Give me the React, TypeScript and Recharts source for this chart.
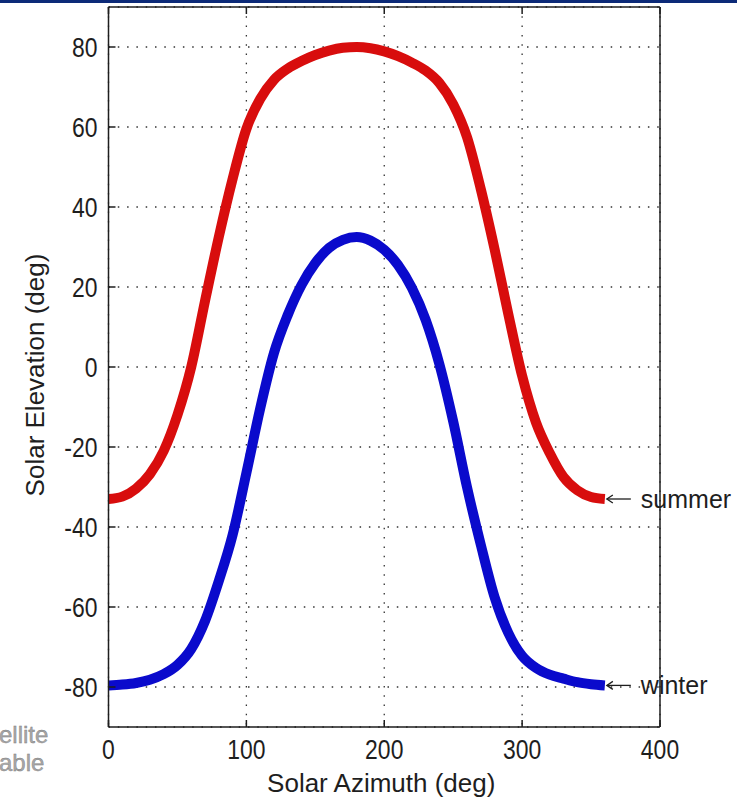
import { LineChart, Line, XAxis, YAxis, CartesianGrid } from 'recharts'

// solar azimuth (deg) sampled every 10 deg
const azimuth = [
  0, 10, 20, 30, 40, 50, 60, 70, 80, 90, 100, 110, 120, 130, 140, 150, 160, 170, 180,
  190, 200, 210, 220, 230, 240, 250, 260, 270, 280, 290, 300, 310, 320, 330, 340, 350, 360,
]

// elevation
const summer = [
  -33, -32.4, -30.4, -26.8, -21, -12, 0, 16.5, 32.5, 47, 59.5, 67, 71.8, 74.6, 76.5, 78, 79.1, 79.8, 80,
  79.7, 78.9, 77.7, 76.1, 74.1, 71, 65.7, 57.5, 44.5, 29.5, 13.2, -2.2, -13.8, -21.5, -27.5, -30.8, -32.5, -33,
]
const winter = [
  -79.6, -79.4, -79, -78.2, -76.8, -74.5, -70.5, -63.5, -53.5, -42, -26.5, -10.4, 3.5, 13, 20.5, 26, 29.8, 31.8, 32.5,
  31.6, 29.3, 25.5, 19.8, 11.8, 0.7, -13.6, -30, -44.4, -57.5, -66.5, -72.2, -75.2, -76.9, -77.9, -78.8, -79.3, -79.6,
]

const xTicks = [0, 100, 200, 300, 400]
const yTicks = [-80, -60, -40, -20, 0, 20, 40, 60, 80]
const slideText = ['ellite', 'able']

const data = azimuth.map((az, i) => ({ az, summer: summer[i], winter: winter[i] }))

const INK = '#1e1e1e'
const FONT = "'Liberation Sans', Arial, sans-serif"

// MATLAB-like condensed tick labels
const tickLabel = (axis: 'x' | 'y') => (p: any) => (
  <text transform={`translate(${p.x},${p.y}) scale(0.85,1)`} textAnchor={axis === 'x' ? 'middle' : 'end'}
    dy={axis === 'x' ? '0.71em' : '0.355em'} fontSize={27} fontFamily={FONT} fill={INK}>
    {p.payload.value}
  </text>
)

// arrow + text at the last point of a curve
const endLabel = (name: string) => (p: any) => {
  if (p.index !== azimuth.length - 1) return <g />
  const x = p.x, y = p.y
  return (
    <g>
      <line x1={x + 2} y1={y} x2={x + 26} y2={y} stroke={INK} strokeWidth={1.3} />
      <polyline points={`${x + 8},${y - 4} ${x + 2},${y} ${x + 8},${y + 4}`} fill="none" stroke={INK} strokeWidth={1.3} />
      <text x={x + 36} y={y} dominantBaseline="central" fontSize={25} fontFamily={FONT} fill={INK}>{name}</text>
    </g>
  )
}

export default function App() {
  return (
    <div style={{ position: 'absolute', left: 0, top: 0, width: 737, height: 799, background: '#fff', overflow: 'hidden' }}>
      <div style={{ position: 'absolute', left: 0, top: 0, width: 737, height: 3, background: '#0c2a78' }} />
      <svg width={737} height={799} style={{ position: 'absolute', left: 0, top: 0 }}>
        {slideText.map((t, i) => (
          <text key={t} x={-1} y={743 + i * 28} fontSize={24} fontFamily={FONT} fill="#a8a8a8" stroke="#7a7a7a" strokeWidth={0.4}>{t}</text>
        ))}
      </svg>
      <LineChart width={737} height={799} data={data} margin={{ top: 0, right: 0, bottom: 0, left: 0 }}
        style={{ position: 'absolute', left: 0, top: 0 }}>
        <CartesianGrid xAxisId="b" yAxisId="l" stroke="#333" strokeDasharray="1.5 7.8" strokeWidth={1.3} />
        <XAxis xAxisId="b" dataKey="az" type="number" domain={[0, 400]} ticks={xTicks} height={72}
          axisLine={{ stroke: INK, strokeWidth: 1.5 }} tickLine={{ stroke: INK, strokeWidth: 1.5 }}
          tickSize={-7} tickMargin={20} tick={tickLabel('x')}
          label={(p: any) => (
            <text x={p.viewBox.x + p.viewBox.width / 2 - 3} y={p.viewBox.y + 65} textAnchor="middle"
              fontSize={26} fontFamily={FONT} fill={INK}>Solar Azimuth (deg)</text>
          )} />
        <XAxis xAxisId="t" orientation="top" dataKey="az" type="number" domain={[0, 400]} ticks={xTicks} height={7}
          axisLine={{ stroke: INK, strokeWidth: 1.5 }} tickLine={{ stroke: INK, strokeWidth: 1.5 }}
          tickSize={-7} tickFormatter={() => ''} />
        <YAxis yAxisId="l" type="number" domain={[-90, 90]} ticks={yTicks} width={108.5}
          axisLine={{ stroke: INK, strokeWidth: 1.5 }} tickLine={{ stroke: INK, strokeWidth: 1.5 }}
          tickSize={-7} tickMargin={18} tick={tickLabel('y')}
          label={(p: any) => {
            const cx = p.viewBox.x + 44
            const cy = p.viewBox.y + p.viewBox.height / 2 + 8
            return (
              <text x={cx} y={cy} transform={`rotate(-90, ${cx}, ${cy})`} textAnchor="middle"
                fontSize={26} fontFamily={FONT} fill={INK}>Solar Elevation (deg)</text>
            )
          }} />
        <YAxis yAxisId="r" orientation="right" type="number" domain={[-90, 90]} ticks={yTicks} width={77}
          axisLine={{ stroke: INK, strokeWidth: 1.5 }} tickLine={{ stroke: INK, strokeWidth: 1.5 }}
          tickSize={-7} tickFormatter={() => ''} />
        <Line xAxisId="b" yAxisId="l" type="monotone" dataKey="summer" stroke="#d80d0d" strokeWidth={10}
          dot={false} isAnimationActive={false} label={endLabel('summer')} />
        <Line xAxisId="b" yAxisId="l" type="monotone" dataKey="winter" stroke="#0a0acc" strokeWidth={10}
          dot={false} isAnimationActive={false} label={endLabel('winter')} />
      </LineChart>
    </div>
  )
}
